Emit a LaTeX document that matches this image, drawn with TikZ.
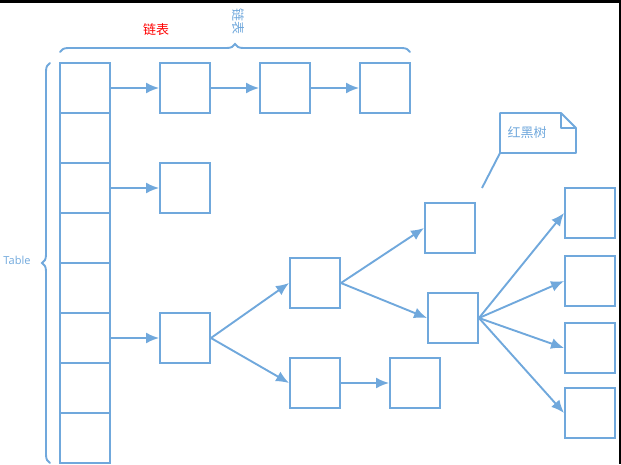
\documentclass[tikz,border=0pt]{standalone}
\usepackage{fontspec}
\setmainfont{Open Sans}
\newfontfamily\cjk{Noto Sans CJK SC}
\usepackage{tikz}
\usetikzlibrary{calc, positioning, arrows.meta, decorations.pathreplacing}

\definecolor{lineblue}{RGB}{112,168,220}
\tikzset{
  cell/.style={draw=lineblue, line width=1.9pt, minimum size=50pt, inner sep=0pt},
  link/.style={draw=lineblue, line width=1.9pt, -{Latex[length=13pt,width=11pt]}},
  brc/.style={draw=lineblue, line width=1.9pt, line cap=round,
    decorate, decoration={brace, amplitude=8pt}},
}

\begin{document}
\begin{tikzpicture}[x=1pt, y=-1pt]
  \useasboundingbox (0,0) rectangle (621,464);
  % frame edges
  \fill [black] (0,0) rectangle (621,2.5);
  \fill [black] (618.5,0) rectangle (621,464);
  % table
  \foreach \i in {0,...,7}
    \node [cell] (t\i) at (85,88+50*\i) {};
  % chains
  \node [cell] (l1) at (185,88) {};
  \node [cell] (l2) at (285,88) {};
  \node [cell] (l3) at (385,88) {};
  \node [cell] (m1) at (185,188) {};
  \node [cell] (r0) at (185,338) {};
  % tree
  \node [cell] (a1) at (315,283) {};
  \node [cell] (a2) at (315,383) {};
  \node [cell] (b1) at (450,228) {};
  \node [cell] (b2) at (453,318) {};
  \node [cell] (b3) at (415,383) {};
  \node [cell] (c1) at (590,213) {};
  \node [cell] (c2) at (590,281) {};
  \node [cell] (c3) at (590,348) {};
  \node [cell] (c4) at (590,413) {};

  \draw [link] (t0.east) -- (l1.west);
  \draw [link] (l1.east) -- (l2.west);
  \draw [link] (l2.east) -- (l3.west);
  \draw [link] (t2.east) -- (m1.west);
  \draw [link] (t5.east) -- (r0.west);
  \draw [link] (r0.east) -- (a1.west);
  \draw [link] (r0.east) -- (a2.west);
  \draw [link] (a1.east) -- (b1.west);
  \draw [link] (a1.east) -- (b2.west);
  \draw [link] (a2.east) -- (b3.west);
  \foreach \c in {c1,c2,c3,c4}
    \draw [link] (b2.east) -- (\c.west);

  % braces
  \draw [brc] (60,52) -- (410,52);
  \draw [brc] (50,463) -- (50,63);
  \node (lbl) at (156,30) {\cjk\fontsize{13}{15}\selectfont\color{red}链表};
  \node [rotate=-90] (vlbl) at (238,21) {\cjk\fontsize{13}{15}\selectfont\color{lineblue}链表};
  \node (tbl) at (17,260) {\fontsize{11}{13}\selectfont\color{lineblue}Table};

  % note
  \node (rb) at (527,133) {\cjk\fontsize{13}{15}\selectfont\color{lineblue}红黑树};
  \draw [lineblue, line width=1.9pt, line join=round]
    (500,113) -- (561,113) -- (576,128) -- (576,153) -- (500,153) -- cycle
    (561,113) -- (561,128) -- (576,128);
  \coordinate (tip) at (482,188);
  \draw [lineblue, line width=1.9pt] (500,153) -- (tip);
\end{tikzpicture}
\end{document}
